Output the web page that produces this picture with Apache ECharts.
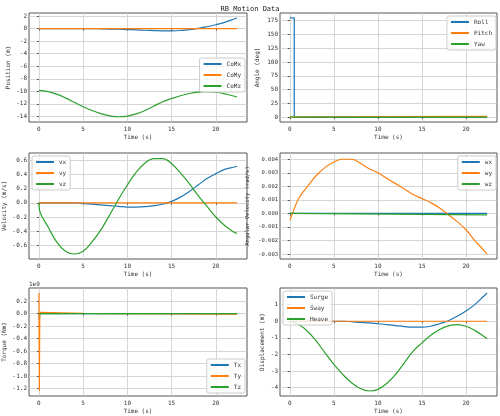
<!DOCTYPE html>
<html><head><meta charset="utf-8">
<script src="https://cdn.jsdelivr.net/npm/echarts@6/dist/echarts.min.js"></script>
<style>html,body{margin:0;padding:0;background:#fff}#c{width:500px;height:416px}</style>
</head><body><div id="c"></div>
<script>
const t = [0,1,2,3,4,5,6,7,8,9,10,11,12,13,14,15,16,17,18,19,20,21,22,22.4];
const heave = [0,-0.2,-0.6,-1.2,-1.9,-2.6,-3.2,-3.7,-4.05,-4.2,-4.1,-3.75,-3.2,-2.5,-1.8,-1.3,-0.85,-0.5,-0.28,-0.2,-0.3,-0.55,-0.9,-1.05];
const surge = [0,0,0,0,0,0,0,-0.03,-0.07,-0.1,-0.15,-0.2,-0.26,-0.32,-0.36,-0.36,-0.3,-0.15,0.03,0.3,0.62,1.0,1.5,1.7];
const comz = [-9.85,-10.05,-10.45,-11.05,-11.75,-12.45,-13.05,-13.55,-13.9,-14.05,-13.95,-13.6,-13.05,-12.35,-11.65,-11.15,-10.7,-10.35,-10.13,-10.05,-10.15,-10.4,-10.75,-10.9];
const vtime = [0,0.1,1,2,3,4,5,6,7,8,9,10,11,12,13,14,15,16,17,18,19,20,21,22,22.4];
const vz = [0,-0.12,-0.33,-0.55,-0.68,-0.72,-0.68,-0.55,-0.38,-0.17,0.05,0.25,0.43,0.56,0.62,0.62,0.55,0.42,0.27,0.1,-0.05,-0.2,-0.32,-0.41,-0.43];
const vx = [0,0,0,0,0,0,-0.01,-0.02,-0.03,-0.04,-0.05,-0.06,-0.06,-0.055,-0.04,-0.02,0.02,0.08,0.16,0.25,0.34,0.41,0.47,0.5,0.51];
const wtime = [0,0.3,1,2,3,4,5,6,7,8,9,10,11,12,13,14,15,16,17,18,19,20,21,22,22.4];
const wy = [-0.0005,0,0.0011,0.002,0.0028,0.0034,0.0038,0.004,0.004,0.0037,0.0033,0.003,0.0026,0.0022,0.0018,0.0014,0.0011,0.0008,0.0004,-0.0001,-0.0006,-0.0012,-0.002,-0.0027,-0.003];
const wzEnds = [[0,0],[22.4,-0.0001]];
const rollPts = [[0,180],[0.5,180],[0.5,0],[22.4,0]];
const pitchPts = [[0,0],[10,1],[22.4,1.2]];
const yawPts = [[0,0],[22.4,0]];
const tyPts = [[0,0.33e9],[0.05,-1.24e9],[0.1,0.02e9],[5,0.003e9],[22.4,-0.01e9]];
const txPts = [[0,0],[0.05,-0.1e9],[0.1,0],[22.4,0]];
const tzPts = [[0,0],[22.4,0]];

const C = ['#1f77b4','#ff7f0e','#2ca02c'];
const F = 'DejaVu Sans Mono';
const xTicks = [0,5,10,15,20];
const grids = [
 {left:29,top:13,width:218,height:109},{left:280,top:13,width:217,height:109},
 {left:29,top:153,width:218,height:106},{left:280,top:153,width:217,height:106},
 {left:29,top:288,width:218,height:108},{left:280,top:288,width:217,height:108}];
const yCfg = [
 {min:-14.89,max:2.49,ticks:[-14,-12,-10,-8,-6,-4,-2,0,2],name:'Position (m)',fmt:v=>String(v)},
 {min:-9,max:189,ticks:[0,25,50,75,100,125,150,175],name:'Angle (deg)',fmt:v=>String(v)},
 {min:-0.79,max:0.7,ticks:[-0.6,-0.4,-0.2,0,0.2,0.4,0.6],name:'Velocity (m/s)',fmt:v=>v.toFixed(1)},
 {min:-0.00336,max:0.00446,ticks:[-0.003,-0.002,-0.001,0,0.001,0.002,0.003,0.004],name:'Angular Velocity (rad/s)',fmt:v=>v.toFixed(3)},
 {min:-1.32e9,max:0.41e9,ticks:[-1.2e9,-1e9,-0.8e9,-0.6e9,-0.4e9,-0.2e9,0,0.2e9],name:'Torque (Nm)',fmt:v=>(v/1e9).toFixed(1)},
 {min:-4.5,max:2.0,ticks:[-4,-3,-2,-1,0,1],name:'Displacement (m)',fmt:v=>String(v)}];
const nameGaps=[18,20,22,29,22,15];
const z = a=>a.map((v,i)=>[t[i],v]);
const zip=(xs,ys)=>xs.map((x,i)=>[x,ys[i]]);
const series = [
 [['CoMx',z(surge)],['CoMy',z(t.map(()=>0))],['CoMz',z(comz)]],
 [['Roll',rollPts],['Pitch',pitchPts],['Yaw',yawPts]],
 [['vx',zip(vtime,vx)],['vy',zip(vtime,vtime.map(()=>0))],['vz',zip(vtime,vz)]],
 [['wx',[[0,0],[22.4,0]]],['wy',zip(wtime,wy)],['wz',wzEnds]],
 [['Tx',txPts],['Ty',tyPts],['Tz',tzPts]],
 [['Surge',z(surge)],['Sway',z(t.map(()=>0))],['Heave',z(heave)]]];
const legPos = [
 {right:255,top:58},{right:4,top:16},{left:32,top:156},{right:4,top:156},{right:255,bottom:23},{left:283,top:291}];
const opt = {animation:false,
 title:{text:'RB Motion Data',left:'center',top:1,textStyle:{fontFamily:F,fontSize:7,fontWeight:'normal',color:'#222'}},
 grid:grids.map(g=>Object.assign({show:true,borderColor:'#555',borderWidth:1,backgroundColor:'#fff'},g)),
 xAxis:grids.map((g,i)=>({type:'value',gridIndex:i,min:-1.12,max:23.52,name:'Time (s)',nameLocation:'middle',nameGap:12,
   nameTextStyle:{fontFamily:F,fontSize:6,color:'#333'},
   axisLine:{show:false},axisTick:{show:true,customValues:xTicks,length:2,lineStyle:{color:'#555'}},
   axisLabel:{customValues:xTicks,fontFamily:F,fontSize:6,color:'#333',margin:4},
   splitLine:{show:true,lineStyle:{color:'#ccc',width:0.8}}})),
 yAxis:yCfg.map((c,i)=>({type:'value',gridIndex:i,min:c.min,max:c.max,name:c.name,nameLocation:'middle',nameGap:nameGaps[i],
   nameTextStyle:{fontFamily:F,fontSize:i===3?5.5:6,color:'#333'},
   axisLine:{show:false},axisTick:{show:true,customValues:c.ticks,length:2,lineStyle:{color:'#555'}},
   axisLabel:{customValues:c.ticks,formatter:c.fmt,fontFamily:F,fontSize:i===3?5.5:6,color:'#333',margin:2},
   splitLine:{show:true,lineStyle:{color:'#ccc',width:0.8}}})),
 legend:series.map((s,i)=>Object.assign({data:s.map(x=>x[0]),orient:'vertical',itemWidth:18,itemHeight:2,itemGap:5,
   icon:'rect',backgroundColor:'rgba(255,255,255,0.8)',borderColor:'#ccc',borderWidth:1,borderRadius:2,padding:[3,4],
   textStyle:{fontFamily:F,fontSize:6,color:'#333'}},legPos[i])),
 series:[], graphic:[{type:'text',left:29,top:281,style:{text:'1e9',font:'6px "DejaVu Sans Mono"',fill:'#333'}}]
};
series.forEach((s,i)=>s.forEach((d,j)=>opt.series.push({type:'line',name:d[0],xAxisIndex:i,yAxisIndex:i,data:d[1],
  showSymbol:false,smooth:(i===1||i===4)?false:0.4,lineStyle:{width:1.2,color:C[j]},itemStyle:{color:C[j]}})));
echarts.init(document.getElementById('c')).setOption(opt);
</script></body></html>
